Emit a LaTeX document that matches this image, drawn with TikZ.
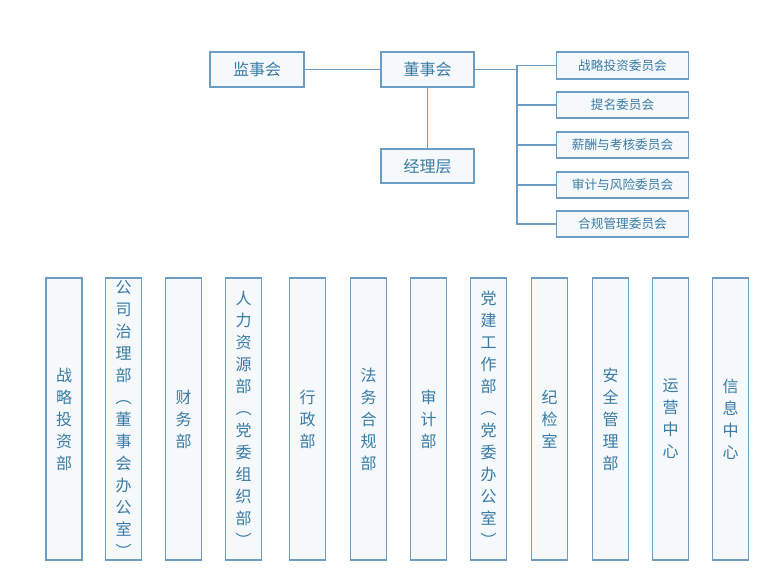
\documentclass[tikz,border=0pt]{standalone}
\usepackage{fontspec}
\newfontfamily\cjk{Noto Sans CJK SC}
\definecolor{boxline}{HTML}{6E9DC3}
\definecolor{boxtext}{HTML}{3A7BA5}
\definecolor{boxfill}{HTML}{F5F9FC}
\tikzset{
  topbox/.style={draw=boxline, line width=1.3pt, fill=boxfill, text=boxtext, font=\cjk\fontsize{12}{14}\selectfont, minimum width=70pt, minimum height=26pt},
  combox/.style={draw=boxline, line width=1.3pt, fill=boxfill, text=boxtext, font=\cjk\fontsize{9.5}{11}\selectfont, minimum width=99pt, minimum height=20pt},
  deptbox/.style={draw=boxline, line width=1.3pt, fill=boxfill, text=boxtext, font=\cjk\fontsize{12}{16.5}\selectfont, align=center, minimum width=27pt, minimum height=211pt, inner sep=1pt},
  link/.style={draw=boxline, line width=1.3pt}
}
\begin{document}
\begin{tikzpicture}[x=0.75pt,y=-0.75pt]
\useasboundingbox (0,0) rectangle (782,585);

\node[topbox] (jianshi) at (257,69.5) {监事会};
\node[topbox] (dongshi) at (427.5,69.5) {董事会};
\node[topbox] (jingli) at (427.5,166) {经理层};

\node[combox] (zhanlue) at (622.5,65.5) {战略投资委员会};
\node[combox] (timing) at (622.5,105) {提名委员会};
\node[combox] (xinchou) at (622.5,145) {薪酬与考核委员会};
\node[combox] (shenji) at (622.5,185) {审计与风险委员会};
\node[combox] (hegui) at (622.5,224) {合规管理委员会};

\coordinate (bus) at (517,69.5);
\path[link] (jianshi) -- (dongshi);
\path[link] (dongshi) -- (bus);
\path[link] (dongshi) -- (jingli);
\path[link] (bus) |- (zhanlue.west);
\path[link] (bus) |- (timing.west);
\path[link] (bus) |- (xinchou.west);
\path[link] (bus) |- (shenji.west);
\path[link] (bus) |- (hegui.west);

\node[deptbox] (d1) at (64,419) {战\\略\\投\\资\\部};
\node[deptbox] (d2) at (123.5,419) {公\\司\\治\\理\\部\\︵\\董\\事\\会\\办\\公\\室\\︶};
\node[deptbox] (d3) at (183.5,419) {财\\务\\部};
\node[deptbox] (d4) at (243.5,419) {人\\力\\资\\源\\部\\︵\\党\\委\\组\\织\\部\\︶};
\node[deptbox] (d5) at (307.5,419) {行\\政\\部};
\node[deptbox] (d6) at (368.5,419) {法\\务\\合\\规\\部};
\node[deptbox] (d7) at (428.5,419) {审\\计\\部};
\node[deptbox] (d8) at (488.5,419) {党\\建\\工\\作\\部\\︵\\党\\委\\办\\公\\室\\︶};
\node[deptbox] (d9) at (549.5,419) {纪\\检\\室};
\node[deptbox] (d10) at (610.5,419) {安\\全\\管\\理\\部};
\node[deptbox] (d11) at (670.5,419) {运\\营\\中\\心};
\node[deptbox] (d12) at (730.5,419) {信\\息\\中\\心};
\end{tikzpicture}
\end{document}
